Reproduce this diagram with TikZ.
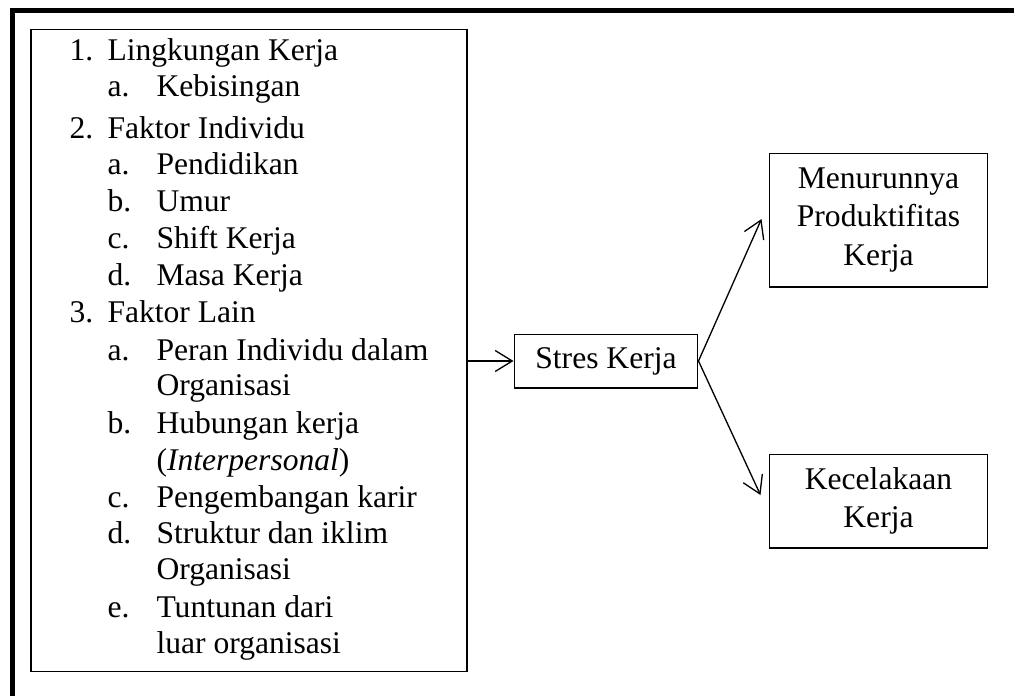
\documentclass[tikz,border=0pt]{standalone}
\usepackage{fontspec}
\setmainfont{Liberation Serif}
\usetikzlibrary{arrows.meta,calc}

\begin{document}
\begin{tikzpicture}[x=0.38pt, y=-0.38pt, every node/.style={font=\fontsize{12}{14.6}\selectfont},
    item/.style={anchor=base west, inner sep=0pt},
    box/.style={draw, rectangle, align=center, inner sep=0pt},
    link/.style={-{Straight Barb[length=6.5pt, width=8pt]}, line width=0.5pt}]
    \useasboundingbox (0,0) rectangle (1014,695);

    % Frame
    \draw[line width=1.9pt, line join=miter] (12.5,710) -- (12.5,10.8) -- (1030,10.8);

    % Factors
    \node[box, minimum width=165.7pt, minimum height=244.3pt] (faktor) at (249,350.5) {};
    \node[item] (n1) at (69,60) {1.};
    \node[item] (t1) at (107,60) {Lingkungan Kerja};
    \node[item] (n1a) at (107,96) {a.};
    \node[item] (t1a) at (156,96) {Kebisingan};
    \node[item] (n2) at (69,138) {2.};
    \node[item] (t2) at (107,138) {Faktor Individu};
    \node[item] (n2a) at (107,174) {a.};
    \node[item] (t2a) at (156,174) {Pendidikan};
    \node[item] (n2b) at (107,211) {b.};
    \node[item] (t2b) at (156,211) {Umur};
    \node[item] (n2c) at (107,248) {c.};
    \node[item] (t2c) at (156,248) {Shift Kerja};
    \node[item] (n2d) at (107,285) {d.};
    \node[item] (t2d) at (156,285) {Masa Kerja};
    \node[item] (n3) at (69,322) {3.};
    \node[item] (t3) at (107,322) {Faktor Lain};
    \node[item] (n3a) at (107,360) {a.};
    \node[item] (t3a) at (156,360) {Peran Individu dalam};
    \node[item] (t3a2) at (156,395) {Organisasi};
    \node[item] (n3b) at (107,433) {b.};
    \node[item] (t3b) at (156,433) {Hubungan kerja};
    \node[item] (t3b2) at (156,470) {(\textit{Interpersonal})};
    \node[item] (n3c) at (107,507) {c.};
    \node[item] (t3c) at (156,507) {Pengembangan karir};
    \node[item] (n3d) at (107,543) {d.};
    \node[item] (t3d) at (156,543) {Struktur dan iklim};
    \node[item] (t3d2) at (156,579) {Organisasi};
    \node[item] (n3e) at (107,617) {e.};
    \node[item] (t3e) at (156,617) {Tuntunan dari};
    \node[item] (t3e2) at (156,653) {luar organisasi};

    % Stres
    \node[box, minimum width=69.9pt, minimum height=20.5pt] (stres) at (606,361) {Stres Kerja};

    % Outcomes
    \node[box, minimum width=83.2pt, minimum height=50.9pt] (menurun) at (878.5,220) {Menurunnya\\Produktifitas\\Kerja};
    \node[box, minimum width=83.2pt, minimum height=35.7pt] (celaka) at (878.5,501) {Kecelakaan\\Kerja};

    % Arrows
    \draw[link] (faktor.east |- stres.west) -- (stres.west);
    \draw[link] (stres.east) -- ($(menurun.west)+(-7,-1)$);
    \draw[link] (stres.east) -- ($(celaka.west)+(-8,-6)$);
\end{tikzpicture}
\end{document}
